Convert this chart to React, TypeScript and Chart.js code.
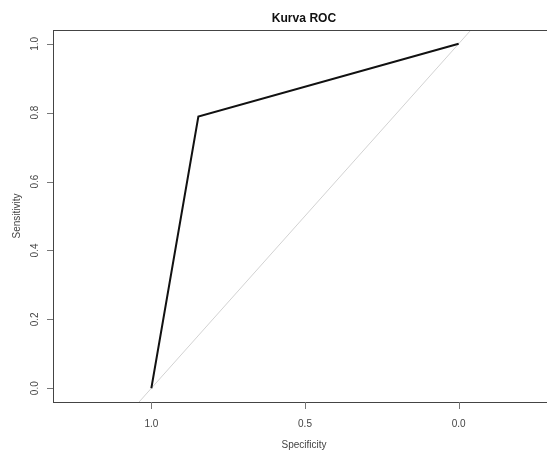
import React, { useEffect, useRef } from "react";
import { Chart, registerables } from "chart.js";

Chart.register(...registerables);

// ---- data ----
const titleText = "Kurva ROC";
const xTitle = "Specificity";
const yTitle = "Sensitivity";
const specificity = [1.0, 0.847, 0.0];
const sensitivity = [0.0, 0.789, 1.0];
const diagSpec = [1.5, -0.5];
const diagSens = [-0.5, 1.5];
const xTicks = [1.0, 0.5, 0.0];
const xTickLabels = ["1.0", "0.5", "0.0"];
const yTicks = [0.0, 0.2, 0.4, 0.6, 0.8, 1.0];
const yTickLabels = ["0.0", "0.2", "0.4", "0.6", "0.8", "1.0"];
const xLimits = [-0.32, 1.32];
const yLimits = [-0.04, 1.04];

const FONT = '"Liberation Sans", Arial, sans-serif';

const rPlot = {
  id: "rPlot",
  afterDraw(chart: any) {
    const { ctx, chartArea: a, scales } = chart;
    const xs = scales.x;
    const ys = scales.y;
    ctx.save();
    // box
    ctx.strokeStyle = "#444";
    ctx.lineWidth = 1;
    ctx.strokeRect(a.left + 0.5, a.top + 0.5, a.right - a.left, a.bottom - a.top);
    // ticks
    ctx.strokeStyle = "#777";
    xTicks.forEach((v) => {
      const px = Math.round(xs.getPixelForValue(v)) + 0.5;
      ctx.beginPath();
      ctx.moveTo(px, a.bottom);
      ctx.lineTo(px, a.bottom + 7);
      ctx.stroke();
    });
    yTicks.forEach((v) => {
      const py = Math.round(ys.getPixelForValue(v)) + 0.5;
      ctx.beginPath();
      ctx.moveTo(a.left - 6, py);
      ctx.lineTo(a.left, py);
      ctx.stroke();
    });
    // tick labels
    ctx.fillStyle = "#444";
    ctx.font = `10px ${FONT}`;
    ctx.textAlign = "center";
    ctx.textBaseline = "middle";
    xTicks.forEach((v, i) => {
      ctx.fillText(xTickLabels[i], xs.getPixelForValue(v), a.bottom + 22.5);
    });
    yTicks.forEach((v, i) => {
      ctx.save();
      ctx.translate(35, ys.getPixelForValue(v));
      ctx.rotate(-Math.PI / 2);
      ctx.fillText(yTickLabels[i], 0, 0);
      ctx.restore();
    });
    // axis titles
    const cx = (a.left + a.right) / 2;
    const cy = (a.top + a.bottom) / 2;
    ctx.fillText(xTitle, cx - 1, 445);
    ctx.save();
    ctx.translate(17, cy);
    ctx.rotate(-Math.PI / 2);
    ctx.fillText(yTitle, 0, 0);
    ctx.restore();
    // main title
    ctx.fillStyle = "#111";
    ctx.font = `bold 13px ${FONT}`;
    ctx.save();
    ctx.translate(cx - 1, 18.5);
    ctx.scale(0.93, 1);
    ctx.fillText(titleText, 0, 0);
    ctx.restore();
    ctx.restore();
  },
};

export default function App() {
  const ref = useRef<HTMLCanvasElement>(null);
  useEffect(() => {
    if (!ref.current) return;
    const chart = new Chart(ref.current, {
      type: "scatter",
      data: {
        datasets: [
          {
            data: specificity.map((x, i) => ({ x, y: sensitivity[i] })),
            showLine: true,
            borderColor: "#111",
            borderWidth: 2,
            pointRadius: 0,
            fill: false,
          },
          {
            data: diagSpec.map((x, i) => ({ x, y: diagSens[i] })),
            showLine: true,
            borderColor: "#d2d2d2",
            borderWidth: 1,
            pointRadius: 0,
            fill: false,
          },
        ],
      },
      options: {
        responsive: false,
        animation: false,
        devicePixelRatio: 1,
        layout: { padding: { top: 30, right: 13, left: 0, bottom: 0 } },
        plugins: {
          legend: { display: false },
          tooltip: { enabled: false },
          title: { display: false },
        },
        scales: {
          x: {
            type: "linear",
            reverse: true,
            min: xLimits[0],
            max: xLimits[1],
            grid: { display: false },
            border: { display: false },
            ticks: { display: false },
            afterFit: (s: any) => {
              s.height = 50;
            },
          },
          y: {
            type: "linear",
            min: yLimits[0],
            max: yLimits[1],
            grid: { display: false },
            border: { display: false },
            ticks: { display: false },
            afterFit: (s: any) => {
              s.width = 53;
            },
          },
        },
      },
      plugins: [rPlot],
    });
    return () => chart.destroy();
  }, []);
  return (
    <div
      style={{
        position: "fixed",
        left: 0,
        top: 0,
        width: 547,
        height: 452,
        overflow: "hidden",
        background: "#fff",
      }}
    >
      <canvas ref={ref} width={570} height={452} style={{ display: "block" }} />
    </div>
  );
}
